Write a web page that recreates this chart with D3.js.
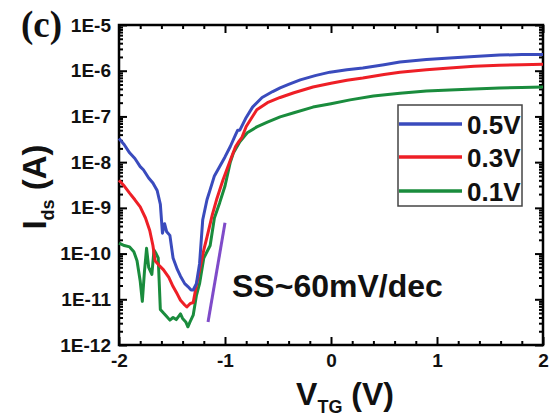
<!DOCTYPE html>
<html lang="en">
<head>
    <meta charset="UTF-8">
    <title>Ids - VTG transfer curves</title>
    <style>
        body { margin: 0; background: #fff; }
        svg text { font-family: "Liberation Sans", Arial, sans-serif; font-weight: bold; }
    </style>
</head>
<body>
    <div id="container"></div>

    <script type="text/javascript" src="https://d3js.org/d3.v7.min.js"></script>
    <script type="text/javascript">
        // Transfer curves, one array pair per drain bias.
        var vtg05 = [-2.00, -1.95, -1.90, -1.85, -1.80, -1.77, -1.72, -1.68, -1.64, -1.61, -1.59, -1.57, -1.55, -1.52,
                     -1.49, -1.45, -1.42, -1.38, -1.35, -1.32, -1.30, -1.27, -1.24, -1.21, -1.17, -1.14, -1.10, -1.05,
                     -1.00, -0.95, -0.90, -0.88, -0.86, -0.80, -0.74, -0.65, -0.55, -0.48, -0.40, -0.29, -0.15, -0.01,
                     0.15, 0.30, 0.50, 0.65, 0.90, 1.12, 1.35, 1.59, 1.80, 2.00];
        var ids05 = [3.3e-8, 2.4e-8, 1.6e-8, 1.2e-8, 8.0e-9, 6.8e-9, 4.5e-9, 3.5e-9, 2.4e-9, 1.2e-9, 2.8e-10, 4.5e-10, 3.0e-10, 2.5e-10,
                     8e-11, 4.5e-11, 3.2e-11, 2.2e-11, 1.9e-11, 1.6e-11, 1.6e-11, 2.2e-11, 6e-11, 5.5e-10, 1.5e-9, 2.5e-9, 5e-9, 8e-9,
                     1.3e-8, 2.2e-8, 4e-8, 5e-8, 5e-8, 9.5e-8, 1.6e-7, 2.6e-7, 3.5e-7, 4.2e-7, 5e-7, 6.3e-7, 7.8e-7, 9.3e-7,
                     1.05e-6, 1.15e-6, 1.35e-6, 1.55e-6, 1.75e-6, 1.9e-6, 2.05e-6, 2.2e-6, 2.25e-6, 2.25e-6];

        var vtg03 = [-2.00, -1.95, -1.90, -1.85, -1.80, -1.75, -1.71, -1.68, -1.66, -1.62, -1.58, -1.53, -1.49, -1.45,
                     -1.42, -1.38, -1.36, -1.33, -1.30, -1.27, -1.24, -1.20, -1.17, -1.12, -1.08, -1.02, -0.95, -0.90,
                     -0.87, -0.84, -0.80, -0.70, -0.60, -0.48, -0.35, -0.17, 0.00, 0.15, 0.30, 0.50, 0.65, 0.90,
                     1.12, 1.35, 1.59, 1.80, 2.00];
        var ids03 = [4.0e-9, 3.0e-9, 2.1e-9, 1.5e-9, 1.05e-9, 6e-10, 3.2e-10, 1.5e-10, 7e-11, 5.5e-11, 4.4e-11, 3.0e-11, 1.9e-11, 1.3e-11,
                     9.5e-12, 7.5e-12, 6.8e-12, 8e-12, 8.5e-12, 2e-11, 4.4e-11, 1.2e-10, 2.3e-10, 7e-10, 1.5e-9, 4e-9, 1.1e-8, 2.2e-8,
                     2.8e-8, 3.5e-8, 6e-8, 1.4e-7, 2.0e-7, 2.6e-7, 3.3e-7, 4.4e-7, 5.3e-7, 6.2e-7, 6.9e-7, 8.3e-7, 9.3e-7, 1.05e-6,
                     1.15e-6, 1.25e-6, 1.32e-6, 1.35e-6, 1.38e-6];

        var vtg01 = [-2.00, -1.95, -1.90, -1.86, -1.83, -1.80, -1.78, -1.76, -1.74, -1.72, -1.69, -1.67, -1.65, -1.63,
                     -1.61, -1.58, -1.55, -1.52, -1.49, -1.46, -1.42, -1.40, -1.37, -1.35, -1.33, -1.30, -1.27, -1.24,
                     -1.20, -1.14, -1.10, -1.05, -1.00, -0.95, -0.92, -0.86, -0.79, -0.70, -0.60, -0.48, -0.35, -0.17,
                     0.00, 0.18, 0.40, 0.65, 0.90, 1.12, 1.35, 1.59, 1.80, 2.00];
        var ids01 = [1.7e-10, 1.5e-10, 1.4e-10, 1.1e-10, 7e-11, 2.5e-11, 9e-12, 4e-11, 1.3e-10, 5e-11, 3.5e-11, 1.2e-10, 1.0e-10, 8e-11,
                     6e-12, 5e-12, 4.2e-12, 3.5e-12, 4.0e-12, 3.6e-12, 4.8e-12, 3.8e-12, 3.2e-12, 2.5e-12, 3.2e-12, 4.5e-12, 1.2e-11, 2.2e-11,
                     8e-11, 1.5e-10, 6e-10, 1.3e-9, 3e-9, 1e-8, 1.6e-8, 2.8e-8, 4.4e-8, 5.9e-8, 7.5e-8, 9.8e-8, 1.2e-7, 1.6e-7,
                     1.9e-7, 2.3e-7, 2.8e-7, 3.2e-7, 3.6e-7, 3.8e-7, 4.0e-7, 4.2e-7, 4.3e-7, 4.4e-7];

        var seriesNames = ["0.5V", "0.3V", "0.1V"];
        var seriesColors = ["#3a4bbd", "#ee1f26", "#1a8c3d"];

        // the SS~60mV/dec guide line
        var ssVtg = [-1.16, -1.00];
        var ssIds = [3.2e-12, 4.7e-10];

        var xTicks = [-2, -1, 0, 1, 2];
        var yTicks = [1e-12, 1e-11, 1e-10, 1e-9, 1e-8, 1e-7, 1e-6, 1e-5];

        var svgCanvas = d3.select("#container")
            .append("svg")
            .attr("width", 556)
            .attr("height", 418);

        // plot box in pixels (note: "top" is reserved on window, so use m*)
        var mLeft = 119, mRight = 543, mTop = 25, mBottom = 345;

        var x = d3.scaleLinear().domain([-2, 2]).range([mLeft, mRight]);
        var y = d3.scaleLog().domain([1e-12, 1e-5]).range([mBottom, mTop]);

        // minor ticks: 0.2 V steps and 2..9 within every decade
        var xMinor = d3.range(-2, 2.001, 0.2).filter(function(v) {
            return Math.abs(v - Math.round(v)) > 1e-6;
        });
        var yMinor = [];
        yTicks.slice(0, -1).forEach(function(d) {
            for (var k = 2; k <= 9; k++) yMinor.push(d * k);
        });

        var fmtY = function(d) { return "1E" + Math.round(Math.log10(d)); };
        var fmtX = function(d) { return String(d); };

        function styleAxis(g) {
            g.selectAll("path.domain").remove();
            g.selectAll("line").attr("stroke", "#000").attr("stroke-width", 2);
            g.selectAll("text")
                .attr("fill", "#111")
                .style("font-size", "19px")
                .style("font-family", "'Liberation Sans', Arial, sans-serif")
                .style("font-weight", "bold");
        }

        // bottom / top
        svgCanvas.append("g").attr("transform", "translate(0," + mBottom + ")")
            .call(d3.axisBottom(x).tickValues(xTicks).tickSize(-8).tickPadding(9).tickFormat(fmtX))
            .call(styleAxis);
        svgCanvas.append("g").attr("transform", "translate(0," + mBottom + ")")
            .call(d3.axisBottom(x).tickValues(xMinor).tickSize(-4).tickFormat(""))
            .call(styleAxis);
        svgCanvas.append("g").attr("transform", "translate(0," + mTop + ")")
            .call(d3.axisTop(x).tickValues(xTicks).tickSize(-8).tickFormat(""))
            .call(styleAxis);
        svgCanvas.append("g").attr("transform", "translate(0," + mTop + ")")
            .call(d3.axisTop(x).tickValues(xMinor).tickSize(-4).tickFormat(""))
            .call(styleAxis);

        // left / right
        svgCanvas.append("g").attr("transform", "translate(" + mLeft + ",0)")
            .call(d3.axisLeft(y).tickValues(yTicks).tickSize(-8).tickPadding(8).tickFormat(fmtY))
            .call(styleAxis);
        svgCanvas.append("g").attr("transform", "translate(" + mLeft + ",0)")
            .call(d3.axisLeft(y).tickValues(yMinor).tickSize(-4).tickFormat(""))
            .call(styleAxis);
        svgCanvas.append("g").attr("transform", "translate(" + mRight + ",0)")
            .call(d3.axisRight(y).tickValues(yTicks).tickSize(-8).tickFormat(""))
            .call(styleAxis);
        svgCanvas.append("g").attr("transform", "translate(" + mRight + ",0)")
            .call(d3.axisRight(y).tickValues(yMinor).tickSize(-4).tickFormat(""))
            .call(styleAxis);

        // frame
        svgCanvas.append("rect")
            .attr("x", mLeft).attr("y", mTop)
            .attr("width", mRight - mLeft).attr("height", mBottom - mTop)
            .attr("fill", "none")
            .attr("stroke", "#000")
            .attr("stroke-width", 2.5);

        var linePath = d3.line()
            .x(function(d) { return x(d[0]); })
            .y(function(d) { return y(d[1]); });

        var series = [
            d3.zip(vtg05, ids05),
            d3.zip(vtg03, ids03),
            d3.zip(vtg01, ids01)
        ];

        // draw 0.1V first so blue ends up on top like the original
        [2, 1, 0].forEach(function(i) {
            svgCanvas.append("path")
                .datum(series[i])
                .attr("d", linePath)
                .attr("fill", "none")
                .attr("stroke", seriesColors[i])
                .attr("stroke-width", 3)
                .attr("stroke-linejoin", "round");
        });

        svgCanvas.append("path")
            .datum(d3.zip(ssVtg, ssIds))
            .attr("d", linePath)
            .attr("fill", "none")
            .attr("stroke", "#7f4bc9")
            .attr("stroke-width", 3);

        // legend
        var legend = svgCanvas.append("g");
        legend.append("rect")
            .attr("x", 398).attr("y", 105)
            .attr("width", 124).attr("height", 101)
            .attr("fill", "#fff")
            .attr("stroke", "#444")
            .attr("stroke-width", 1.5);
        var legendRows = [124, 157, 191];
        seriesNames.forEach(function(name, i) {
            legend.append("line")
                .attr("x1", 399).attr("x2", 462)
                .attr("y1", legendRows[i]).attr("y2", legendRows[i])
                .attr("stroke", seriesColors[i])
                .attr("stroke-width", 3.5);
            legend.append("text")
                .attr("x", 467).attr("y", legendRows[i] + 9.5)
                .attr("font-size", 26)
                .attr("fill", "#111")
                .text(name);
        });

        svgCanvas.append("text")
            .attr("x", 232).attr("y", 297)
            .attr("font-size", 32)
            .attr("fill", "#111")
            .text("SS~60mV/dec");

        // panel letter
        svgCanvas.append("text")
            .attr("x", 21).attr("y", 37)
            .attr("font-size", 37)
            .attr("fill", "#111")
            .style("font-family", "'Liberation Serif', 'Times New Roman', serif")
            .text("(c)");

        // x label V_TG (V)
        var xl = svgCanvas.append("text")
            .attr("x", 345).attr("y", 405)
            .attr("text-anchor", "middle")
            .attr("font-size", 32)
            .attr("fill", "#111");
        xl.append("tspan").text("V");
        xl.append("tspan").attr("font-size", 18).attr("dy", 8).text("TG");
        xl.append("tspan").attr("dy", -8).text(" (V)");

        // y label I_ds (A)
        var yl = svgCanvas.append("text")
            .attr("transform", "translate(46,187) rotate(-90)")
            .attr("text-anchor", "middle")
            .attr("font-size", 33)
            .attr("fill", "#111");
        yl.append("tspan").text("I");
        yl.append("tspan").attr("font-size", 18).attr("dy", 8).text("ds");
        yl.append("tspan").attr("dy", -8).text(" (A)");
    </script>
</body>
</html>
